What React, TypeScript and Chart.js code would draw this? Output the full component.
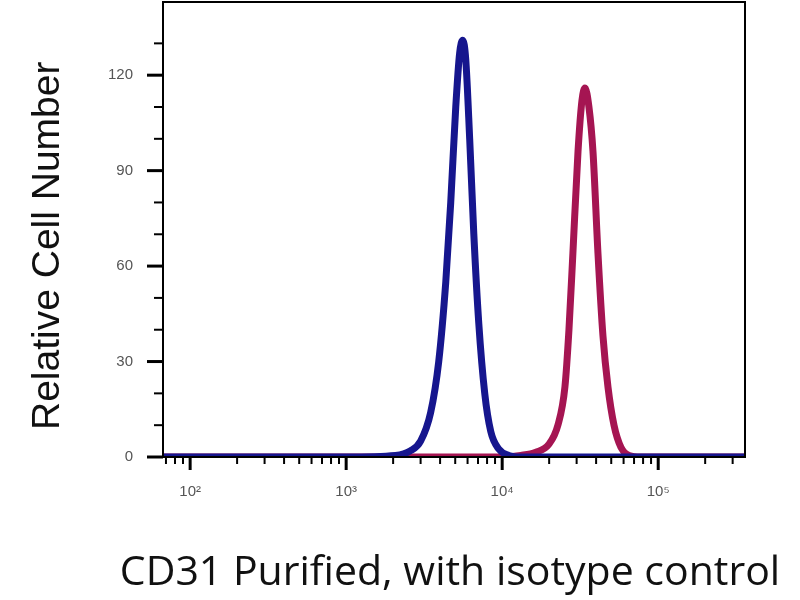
import React, { FC, useEffect, useRef } from "react";
import { Chart, registerables } from "chart.js";

Chart.register(...registerables);

// fluorescence intensity (log axis) and counts
const isotypeX = [67, 1000, 2070, 2590, 3000, 3480, 3920, 4350, 4680, 5040, 5340, 5590, 5840, 6190, 6580, 7080, 7730, 8450, 9510, 11020, 13160, 40000, 360000];
const isotypeY = [0, 0, 0.5, 2, 5, 14, 30, 55, 80, 110, 127, 131, 125, 100, 70, 42, 20, 8, 2.5, 0.5, 0, 0, 0];

const cd31X = [67, 2000, 9800, 13160, 16440, 19920, 22760, 25240, 26790, 28390, 30620, 32450, 33950, 35980, 38190, 41110, 44260, 47650, 52090, 57780, 65050, 77620, 360000];
const cd31Y = [0, 0, 0, 0.5, 1.5, 4, 10, 22, 40, 64, 96, 112, 116, 110, 96, 64, 38, 22, 10, 3, 0.5, 0, 0];

const xMin = 67;
const xMax = 360000;
const yMax = 143;
const yLabelEvery = 30;
const xTitle = "CD31 Purified, with isotype control";

const supers: Record<string, string> = { "0": "⁰", "1": "¹", "2": "²", "3": "³", "4": "⁴", "5": "⁵", "6": "⁶" };

const isDecade = (v: number) => Math.abs(Math.log10(v) - Math.round(Math.log10(v))) < 1e-6;
const isWholeStep = (v: number) => {
  const s = v / Math.pow(10, Math.floor(Math.log10(v) + 1e-9));
  return Math.abs(s - Math.round(s)) < 1e-6;
};

// tick marks with long majors and short minors, the box frame and the x title
// (the title is wider than the plot, so Chart.js would squeeze it)
const frameTicks = {
  id: "frameTicks",
  afterDraw(chart: any) {
    const { ctx, chartArea } = chart;
    const xs = chart.scales.x;
    const ys = chart.scales.y;
    ctx.save();
    ctx.strokeStyle = "#000";
    ctx.lineCap = "butt";
    xs.ticks.forEach((t: any) => {
      if (!isWholeStep(t.value)) return;
      const px = xs.getPixelForValue(t.value);
      const major = isDecade(t.value);
      ctx.lineWidth = major ? 3 : 2;
      ctx.beginPath();
      ctx.moveTo(px, chartArea.bottom);
      ctx.lineTo(px, chartArea.bottom + (major ? 13 : 7));
      ctx.stroke();
    });
    ys.ticks.forEach((t: any) => {
      if (t.value % 10 !== 0) return;
      const py = ys.getPixelForValue(t.value);
      const major = t.value % yLabelEvery === 0;
      ctx.lineWidth = major ? 3 : 2;
      ctx.beginPath();
      ctx.moveTo(chartArea.left, py);
      ctx.lineTo(chartArea.left - (major ? 16 : 9), py);
      ctx.stroke();
    });
    ctx.lineWidth = 2;
    ctx.strokeRect(chartArea.left, chartArea.top, chartArea.right - chartArea.left, chartArea.bottom - chartArea.top);

    ctx.fillStyle = "#111";
    ctx.font = "41px 'Open Sans'";
    ctx.textAlign = "center";
    ctx.textBaseline = "middle";
    ctx.fillText(xTitle, 450, 573);
    ctx.restore();
  }
};

const App: FC = () => {
  const chartRef = useRef<HTMLCanvasElement | null>(null);

  useEffect(() => {
    if (!chartRef.current) return;

    const chart = new Chart(chartRef.current, {
      type: "line",
      data: {
        datasets: [
          {
            label: "Isotype control",
            data: isotypeX.map((x, i) => ({ x, y: isotypeY[i] })),
            borderColor: "#16168e",
            borderWidth: 7,
            pointRadius: 0,
            cubicInterpolationMode: "monotone",
            fill: false
          },
          {
            label: "CD31 Purified",
            data: cd31X.map((x, i) => ({ x, y: cd31Y[i] })),
            borderColor: "#a51552",
            borderWidth: 7,
            pointRadius: 0,
            cubicInterpolationMode: "monotone",
            fill: false
          }
        ]
      },
      options: {
        animation: false,
        responsive: true,
        maintainAspectRatio: false,
        layout: { padding: { top: 2, right: 55, left: 0, bottom: 0 } },
        plugins: { legend: { display: false }, tooltip: { enabled: false } },
        scales: {
          x: {
            type: "logarithmic",
            min: xMin,
            max: xMax,
            afterFit: (s: any) => { s.height = 143; s.paddingLeft = 0; s.paddingRight = 0; },
            grid: { display: false, drawTicks: false },
            border: { display: false },
            ticks: {
              autoSkip: false,
              maxRotation: 0,
              padding: 26,
              color: "#555",
              font: { family: "Liberation Sans", size: 15 },
              callback: (v: any) => {
                const n = Number(v);
                if (!isDecade(n)) return "";
                const e = String(Math.round(Math.log10(n)));
                return "10" + e.split("").map((c) => supers[c]).join("");
              }
            },
            title: { display: false }
          },
          y: {
            min: 0,
            max: yMax,
            afterFit: (s: any) => { s.width = 163; s.paddingTop = 0; s.paddingBottom = 0; },
            grid: { display: false, drawTicks: false },
            border: { display: false },
            ticks: {
              stepSize: 10,
              autoSkip: false,
              padding: 30,
              color: "#555",
              font: { family: "Liberation Sans", size: 15 },
              callback: (v: any) => (Number(v) % yLabelEvery === 0 ? String(v) : "")
            },
            title: {
              display: true,
              text: "Relative Cell Number   ",
              color: "#111",
              font: { family: "Liberation Sans", size: 39 },
              padding: { top: 25, bottom: 0 }
            }
          }
        }
      },
      plugins: [frameTicks]
    });

    return () => {
      chart.destroy();
    };
  }, []);

  return (
    <div style={{ position: "absolute", left: 0, top: 0, width: 800, height: 600, background: "#fff" }}>
      <canvas ref={chartRef}></canvas>
    </div>
  );
};

export default App;
